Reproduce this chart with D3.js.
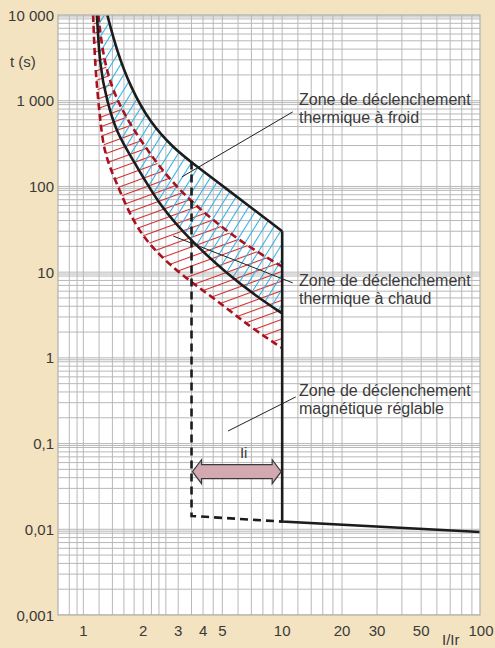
<!DOCTYPE html>
<html>
<head>
<meta charset="utf-8">
<script src="https://cdn.jsdelivr.net/npm/d3@7"></script>
<style>
  body { margin: 0; background: #f3e3c0; }
  svg text { font-family: "Liberation Sans", Arial, sans-serif; fill: #3a3a3a; }
</style>
</head>
<body>
<div id="chart"></div>
<script>
// axis ticks
const xTicks = [1, 2, 3, 4, 5, 10, 20, 30, 50, 100];
const xTickLabels = ["1", "2", "3", "4", "5", "10", "20", "30", "50", "100"];
const yTicks = [0.001, 0.01, 0.1, 1, 10, 100, 1000, 10000];
const yTickLabels = ["0,001", "0,01", "0,1", "1", "10", "100", "1 000", "10 000"];

// grid lines (log paper)
const xGrid = [0.85, 0.93, 1, 1.2, 1.4, 1.6, 1.8, 2, 2.2, 2.4, 2.6, 3, 3.5, 4, 4.5, 5, 6, 7, 8, 9,
               10, 12, 14, 16, 18, 20, 30, 40, 50, 60, 70, 80, 90];
const yGridMult = [1, 2, 3, 4, 5, 6, 7, 8, 9, 9.5];
const yDecades = [0.001, 0.01, 0.1, 1, 10, 100, 1000];

// thermal trip, cold state (black solid curves)
const coldMinI = [1.17, 1.21, 1.31, 1.47, 1.78, 2.43, 3.58, 5.26, 7.45, 10];
const coldMinT = [10000, 2500, 1020, 420, 204, 58, 21.7, 9.7, 5.2, 3.3];
const coldMaxI = [1.32, 1.47, 1.72, 2.17, 2.84, 3.58, 5.26, 7.45, 10];
const coldMaxT = [10000, 3900, 1460, 550, 281, 183, 93.5, 50.4, 30];

// thermal trip, hot state (red dashed curves)
const hotMinI = [1.12, 1.145, 1.21, 1.27, 1.47, 1.78, 2.25, 3.18, 4.69, 6.89, 10];
const hotMinT = [10000, 2500, 650, 244, 109, 38, 18.2, 8.9, 4.7, 2.3, 1.3];
const hotMaxI = [1.19, 1.26, 1.47, 2.08, 3.06, 5.91, 10];
const hotMaxT = [10000, 3000, 940, 266, 84, 23.8, 11.6];

// magnetic trip
const magMaxI = [10, 10, 100];
const magMaxT = [30, 0.0123, 0.0093];
const magMinI = [3.5, 3.5, 10];
const magMinT = [195, 0.0143, 0.0123];
const iiRange = [3.5, 10];
const iiLevel = 0.047;

const zoneLabels = [
  ["Zone de déclenchement", "thermique à froid"],
  ["Zone de déclenchement", "thermique à chaud"],
  ["Zone de déclenchement", "magnétique réglable"]
];

const W = 495, H = 648;
const pLeft = 58, pRight = 480, pTop = 15, pBottom = 615;

const svg = d3.select("#chart").append("svg")
    .attr("width", W)
    .attr("height", H);

const x = d3.scaleLog().domain([0.75, 100]).range([58.5, 481]);
const y = d3.scaleLog().domain([0.001, 10000]).range([pBottom, pTop]);

const defs = svg.append("defs");
defs.append("clipPath").attr("id", "plot-clip")
  .append("rect").attr("x", pLeft).attr("y", pTop)
  .attr("width", pRight - pLeft).attr("height", pBottom - pTop);

// hatch patterns
const blueHatch = defs.append("pattern").attr("id", "blue-hatch")
    .attr("patternUnits", "userSpaceOnUse")
    .attr("width", 20).attr("height", 8)
    .attr("patternTransform", "rotate(-58)");
blueHatch.append("line").attr("x1", 0).attr("x2", 20).attr("y1", 0.5).attr("y2", 0.5)
    .attr("stroke", "#2fb0e6").attr("stroke-width", 1.1);

const redHatch = defs.append("pattern").attr("id", "red-hatch")
    .attr("patternUnits", "userSpaceOnUse")
    .attr("width", 20).attr("height", 9)
    .attr("patternTransform", "rotate(-20)");
redHatch.append("line").attr("x1", 0).attr("x2", 20).attr("y1", 0.5).attr("y2", 0.5)
    .attr("stroke", "#d22a2a").attr("stroke-width", 1.1);

// plot background
svg.append("rect")
    .attr("x", pLeft).attr("y", pTop)
    .attr("width", pRight - pLeft).attr("height", pBottom - pTop)
    .attr("fill", "#fff");

const g = svg.append("g").attr("clip-path", "url(#plot-clip)");

// grid
g.selectAll("line.vgrid")
  .data(xGrid)
  .join("line")
    .attr("class", "vgrid")
    .attr("x1", d => x(d)).attr("x2", d => x(d))
    .attr("y1", pTop).attr("y2", pBottom)
    .attr("stroke", "#b8b8b8").attr("stroke-width", 1);

const yGrid = [];
yDecades.forEach(dec => yGridMult.forEach(m => yGrid.push(dec * m)));
yGrid.push(10000);
g.selectAll("line.hgrid")
  .data(yGrid)
  .join("line")
    .attr("class", "hgrid")
    .attr("x1", pLeft).attr("x2", pRight)
    .attr("y1", d => y(d)).attr("y2", d => y(d))
    .attr("stroke", "#b8b8b8").attr("stroke-width", 1);

const zip = (a, b) => a.map((v, i) => [v, b[i]]);
const line = d3.line()
    .x(d => x(d[0])).y(d => y(d[1]))
    .curve(d3.curveBasis);
const straight = d3.line().x(d => x(d[0])).y(d => y(d[1]));

function zone(a, b) {
  // closed band between two curves, joined at the right end
  const p1 = line(a);
  const p2 = line(b.slice().reverse()).replace(/^M/, "L");
  return p1 + p2 + "Z";
}

const coldMin = zip(coldMinI, coldMinT);
const coldMax = zip(coldMaxI, coldMaxT);
const hotMin = zip(hotMinI, hotMinT);
const hotMax = zip(hotMaxI, hotMaxT);

// hatched zones
g.append("path").attr("d", zone(hotMin, hotMax)).attr("fill", "url(#red-hatch)");
g.append("path").attr("d", zone(coldMin, coldMax)).attr("fill", "url(#blue-hatch)");

// hot curves
[hotMin, hotMax].forEach(c => {
  g.append("path").attr("d", line(c))
    .attr("fill", "none").attr("stroke", "#a8121f")
    .attr("stroke-width", 2.6).attr("stroke-dasharray", "7,4");
});

// cold curves
[coldMin, coldMax].forEach(c => {
  g.append("path").attr("d", line(c))
    .attr("fill", "none").attr("stroke", "#1c1c1c")
    .attr("stroke-width", 2.6);
});

// magnetic limits
g.append("path").attr("d", straight(zip(magMinI, magMinT)))
    .attr("fill", "none").attr("stroke", "#1c1c1c")
    .attr("stroke-width", 2.6).attr("stroke-dasharray", "8,5");
g.append("path").attr("d", straight(zip(magMaxI, magMaxT)))
    .attr("fill", "none").attr("stroke", "#1c1c1c")
    .attr("stroke-width", 2.6);

// Ii double arrow
const ax1 = x(iiRange[0]) + 1, ax2 = x(iiRange[1]) - 1, ay = y(iiLevel);
const bh = 7, hh = 12, hl = 9;
const arrowPts = [
  [ax1, ay], [ax1 + hl, ay - hh], [ax1 + hl, ay - bh], [ax2 - hl, ay - bh], [ax2 - hl, ay - hh],
  [ax2, ay], [ax2 - hl, ay + hh], [ax2 - hl, ay + bh], [ax1 + hl, ay + bh], [ax1 + hl, ay + hh]
];
svg.append("polygon")
    .attr("points", arrowPts.map(p => p.join(",")).join(" "))
    .attr("fill", "#d4a8b0").attr("stroke", "#3a3a3a").attr("stroke-width", 1.2);
svg.append("text")
    .attr("x", x(6.4)).attr("y", ay - 14)
    .attr("text-anchor", "middle").attr("font-size", 15)
    .text("Ii");

// leader lines to the zone labels
const leaders = [
  [[11.3, 740], [3.13, 129]],
  [[2.83, 26.4], [11.3, 7.5]],
  [[11.7, 0.35], [5.34, 0.14]]
];
leaders.forEach(l => {
  svg.append("path").attr("d", straight(l))
    .attr("stroke", "#222").attr("stroke-width", 1).attr("fill", "none");
});

const labelAnchors = [[12.15, 104.5], [12.15, 285.5], [12.15, 395.5]];
zoneLabels.forEach((lines, i) => {
  const t = svg.append("text")
      .attr("x", x(labelAnchors[i][0]))
      .attr("y", labelAnchors[i][1])
      .attr("font-size", 16);
  lines.forEach((s, j) => {
    t.append("tspan").attr("x", x(labelAnchors[i][0])).attr("dy", j === 0 ? 0 : 18).text(s);
  });
});

// plot frame
svg.append("rect")
    .attr("x", pLeft).attr("y", pTop)
    .attr("width", pRight - pLeft).attr("height", pBottom - pTop)
    .attr("fill", "none").attr("stroke", "#b0b0b0").attr("stroke-width", 1.2);

// axis labels
svg.selectAll("text.ylab")
  .data(yTicks)
  .join("text")
    .attr("class", "ylab")
    .attr("x", 54).attr("y", d => y(d) + 5.5)
    .attr("text-anchor", "end").attr("font-size", 15)
    .text((d, i) => yTickLabels[i]);

svg.selectAll("text.xlab")
  .data(xTicks)
  .join("text")
    .attr("class", "xlab")
    .attr("x", d => x(d)).attr("y", 636)
    .attr("text-anchor", "middle").attr("font-size", 15)
    .text((d, i) => xTickLabels[i]);

svg.append("text").attr("x", 10).attr("y", 67).attr("font-size", 15).text("t (s)");
svg.append("text").attr("x", 442).attr("y", 645).attr("font-size", 15).text("I/Ir");
</script>
</body>
</html>
